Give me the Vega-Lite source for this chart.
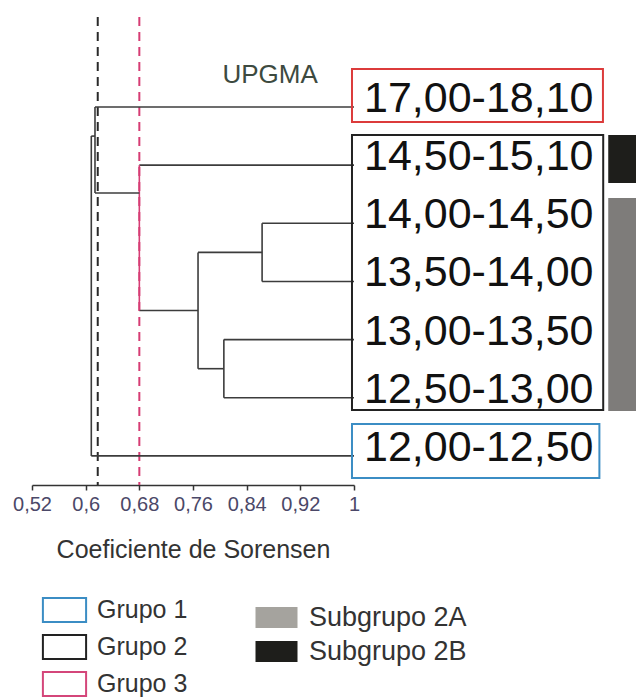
{
  "$schema": "https://vega.github.io/schema/vega-lite/v6.json",
  "width": 322,
  "height": 485,
  "autosize": {"type": "none"},
  "padding": {"left": 32, "top": 0, "right": 282, "bottom": 212},
  "config": {"view": {"stroke": null}, "font": "Liberation Sans", "background": "white"},
  "datasets": {
    "cortes": [{"corte": 0.618, "grupo": "Grupo 2"}, {"corte": 0.68, "grupo": "Grupo 3"}],
    "ramas": [
      {"nodo": "17,00-18,10", "x_ini": 0.6139, "x_fin": 1, "y_ini": 1, "y_fin": 1},
      {"nodo": "14,50-15,10", "x_ini": 0.68, "x_fin": 1, "y_ini": 2, "y_fin": 2},
      {"nodo": "14,00-14,50", "x_ini": 0.863, "x_fin": 1, "y_ini": 3, "y_fin": 3},
      {"nodo": "13,50-14,00", "x_ini": 0.863, "x_fin": 1, "y_ini": 4, "y_fin": 4},
      {"nodo": "13,00-13,50", "x_ini": 0.806, "x_fin": 1, "y_ini": 5, "y_fin": 5},
      {"nodo": "12,50-13,00", "x_ini": 0.806, "x_fin": 1, "y_ini": 6, "y_fin": 6},
      {"nodo": "12,00-12,50", "x_ini": 0.6084, "x_fin": 1, "y_ini": 7, "y_fin": 7},
      {"nodo": "A", "x_ini": 0.863, "x_fin": 0.863, "y_ini": 3, "y_fin": 4},
      {"nodo": "A", "x_ini": 0.7675, "x_fin": 0.863, "y_ini": 3.5, "y_fin": 3.5},
      {"nodo": "B", "x_ini": 0.806, "x_fin": 0.806, "y_ini": 5, "y_fin": 6},
      {"nodo": "B", "x_ini": 0.7675, "x_fin": 0.806, "y_ini": 5.5, "y_fin": 5.5},
      {"nodo": "C", "x_ini": 0.7675, "x_fin": 0.7675, "y_ini": 3.5, "y_fin": 5.5},
      {"nodo": "C", "x_ini": 0.68, "x_fin": 0.7675, "y_ini": 4.5, "y_fin": 4.5},
      {"nodo": "D", "x_ini": 0.68, "x_fin": 0.68, "y_ini": 2, "y_fin": 4.5},
      {"nodo": "D", "x_ini": 0.6139, "x_fin": 0.68, "y_ini": 2.48, "y_fin": 2.48},
      {"nodo": "E", "x_ini": 0.6139, "x_fin": 0.6139, "y_ini": 1, "y_fin": 2.48},
      {"nodo": "E", "x_ini": 0.6084, "x_fin": 0.6139, "y_ini": 1.5, "y_fin": 1.5},
      {"nodo": "F", "x_ini": 0.6084, "x_fin": 0.6084, "y_ini": 1.5, "y_fin": 7}
    ],
    "grupos": [
      {"grupo": "Grupo 3", "x_ini": 0.997, "x_fin": 1.3711, "y_ini": 0.3465, "y_fin": 1.258},
      {"grupo": "Grupo 2", "x_ini": 0.997, "x_fin": 1.3715, "y_ini": 1.4815, "y_fin": 6.211},
      {"grupo": "Grupo 1", "x_ini": 0.997, "x_fin": 1.3658, "y_ini": 6.451, "y_fin": 7.38}
    ],
    "subgrupos": [
      {"subgrupo": "Subgrupo 2A", "y_ini": 2.565, "y_fin": 6.228},
      {"subgrupo": "Subgrupo 2B", "y_ini": 1.4815, "y_fin": 2.307}
    ],
    "hojas": [
      {"intervalo": "17,00-18,10", "orden": 1},
      {"intervalo": "14,50-15,10", "orden": 2},
      {"intervalo": "14,00-14,50", "orden": 3},
      {"intervalo": "13,50-14,00", "orden": 4},
      {"intervalo": "13,00-13,50", "orden": 5},
      {"intervalo": "12,50-13,00", "orden": 6},
      {"intervalo": "12,00-12,50", "orden": 7}
    ],
    "metodo": [{"metodo": "UPGMA"}]
  },
  "layer": [
    {
      "data": {"name": "cortes"},
      "mark": {"type": "rule", "strokeWidth": 2, "strokeDash": [9, 6]},
      "encoding": {
        "x": {
          "field": "corte", "type": "quantitative", "title": "Coeficiente de Sorensen",
          "scale": {"domain": [0.52, 1], "nice": false, "zero": false},
          "axis": {
            "title": "Coeficiente de Sorensen",
            "values": [0.52, 0.6, 0.68, 0.76, 0.84, 0.92, 1],
            "labelExpr": "replace(toString(datum.value), '.', ',')",
            "labelFlush": false,
            "labelOverlap": false,
            "grid": false,
            "domainColor": "#333333", "domainWidth": 1.5,
            "tickColor": "#333333", "tickWidth": 1.5, "tickSize": 5,
            "labelFontSize": 20, "labelColor": "#4b4868", "labelPadding": 4,
            "labelFont": "Liberation Sans",
            "titleFontSize": 25, "titleFontWeight": "normal", "titleColor": "#333333",
            "titlePadding": 23, "titleFont": "Liberation Sans"
          }
        },
        "y": {"datum": -0.548, "type": "quantitative", "scale": {"domain": [-0.84, 7.5], "reverse": true, "nice": false, "zero": false}, "axis": null},
        "y2": {"datum": 7.5},
        "stroke": {"condition": {"test": "datum.grupo === 'Grupo 3'", "value": "#d63c74"}, "value": "#2a2a2a"}
      }
    },
    {
      "data": {"name": "ramas"},
      "mark": {"type": "rule", "strokeWidth": 1.6},
      "encoding": {
        "x": {"field": "x_ini", "type": "quantitative", "title": "Coeficiente de Sorensen"},
        "x2": {"field": "x_fin"},
        "y": {"field": "y_ini", "type": "quantitative", "axis": null},
        "y2": {"field": "y_fin"},
        "stroke": {"condition": {"test": "datum.nodo === 'D' && datum.y_ini !== datum.y_fin", "value": "#d63c74"}, "value": "#3c3c3c"}
      }
    },
    {
      "data": {"name": "grupos"},
      "mark": {"type": "rect", "filled": false, "strokeWidth": 2},
      "encoding": {
        "x": {"field": "x_ini", "type": "quantitative", "title": "Coeficiente de Sorensen"},
        "x2": {"field": "x_fin"},
        "y": {"field": "y_ini", "type": "quantitative", "axis": null},
        "y2": {"field": "y_fin"},
        "stroke": {
          "condition": {"test": "datum.grupo === 'Grupo 3'", "value": "#dc3b3b"},
          "field": "grupo", "type": "nominal",
          "scale": {"domain": ["Grupo 1", "Grupo 2", "Grupo 3"], "range": ["#3b8dc4", "#222222", "#d4467a"]},
          "legend": {
            "title": null, "orient": "none", "legendX": 19.5, "legendY": 597, "padding": 0,
            "symbolType": "M-1.8,-1H1.8V1H-1.8Z", "symbolSize": 576, "symbolStrokeWidth": 2,
            "labelFontSize": 25, "labelColor": "#333333", "labelOffset": 19.5, "rowPadding": 5,
            "labelFont": "Liberation Sans"
          }
        }
      }
    },
    {
      "data": {"name": "subgrupos"},
      "mark": {"type": "rect"},
      "encoding": {
        "x": {"datum": 1.379, "type": "quantitative", "title": "Coeficiente de Sorensen"},
        "x2": {"datum": 1.4207},
        "y": {"field": "y_ini", "type": "quantitative", "axis": null},
        "y2": {"field": "y_fin"},
        "fill": {
          "condition": {"test": "datum.subgrupo === 'Subgrupo 2A'", "value": "#7e7c7a"},
          "field": "subgrupo", "type": "nominal",
          "scale": {"domain": ["Subgrupo 2A", "Subgrupo 2B"], "range": ["#a5a39e", "#1e1e1b"]},
          "legend": {
            "title": null, "orient": "none", "legendX": 231, "legendY": 604, "padding": 0,
            "symbolType": "M-2,-1H2V1H-2Z", "symbolSize": 441, "symbolStrokeWidth": 0,
            "labelFontSize": 27, "labelColor": "#333333", "labelOffset": 19, "rowPadding": 6,
            "labelFont": "Liberation Sans"
          }
        }
      }
    },
    {
      "data": {"name": "hojas"},
      "mark": {"type": "text", "align": "left", "baseline": "middle", "dx": 10, "dy": -8, "fontSize": 43, "font": "Liberation Sans", "color": "#111111"},
      "encoding": {
        "x": {"datum": 1, "type": "quantitative", "title": "Coeficiente de Sorensen"},
        "y": {"field": "orden", "type": "quantitative", "axis": null},
        "text": {"field": "intervalo"}
      }
    },
    {
      "data": {"name": "metodo"},
      "mark": {"type": "text", "align": "center", "baseline": "middle", "fontSize": 26, "font": "Liberation Sans", "color": "#3d4a40"},
      "encoding": {
        "x": {"datum": 0.875, "type": "quantitative", "title": "Coeficiente de Sorensen"},
        "y": {"datum": 0.45, "type": "quantitative", "axis": null},
        "text": {"field": "metodo"}
      }
    }
  ]
}
